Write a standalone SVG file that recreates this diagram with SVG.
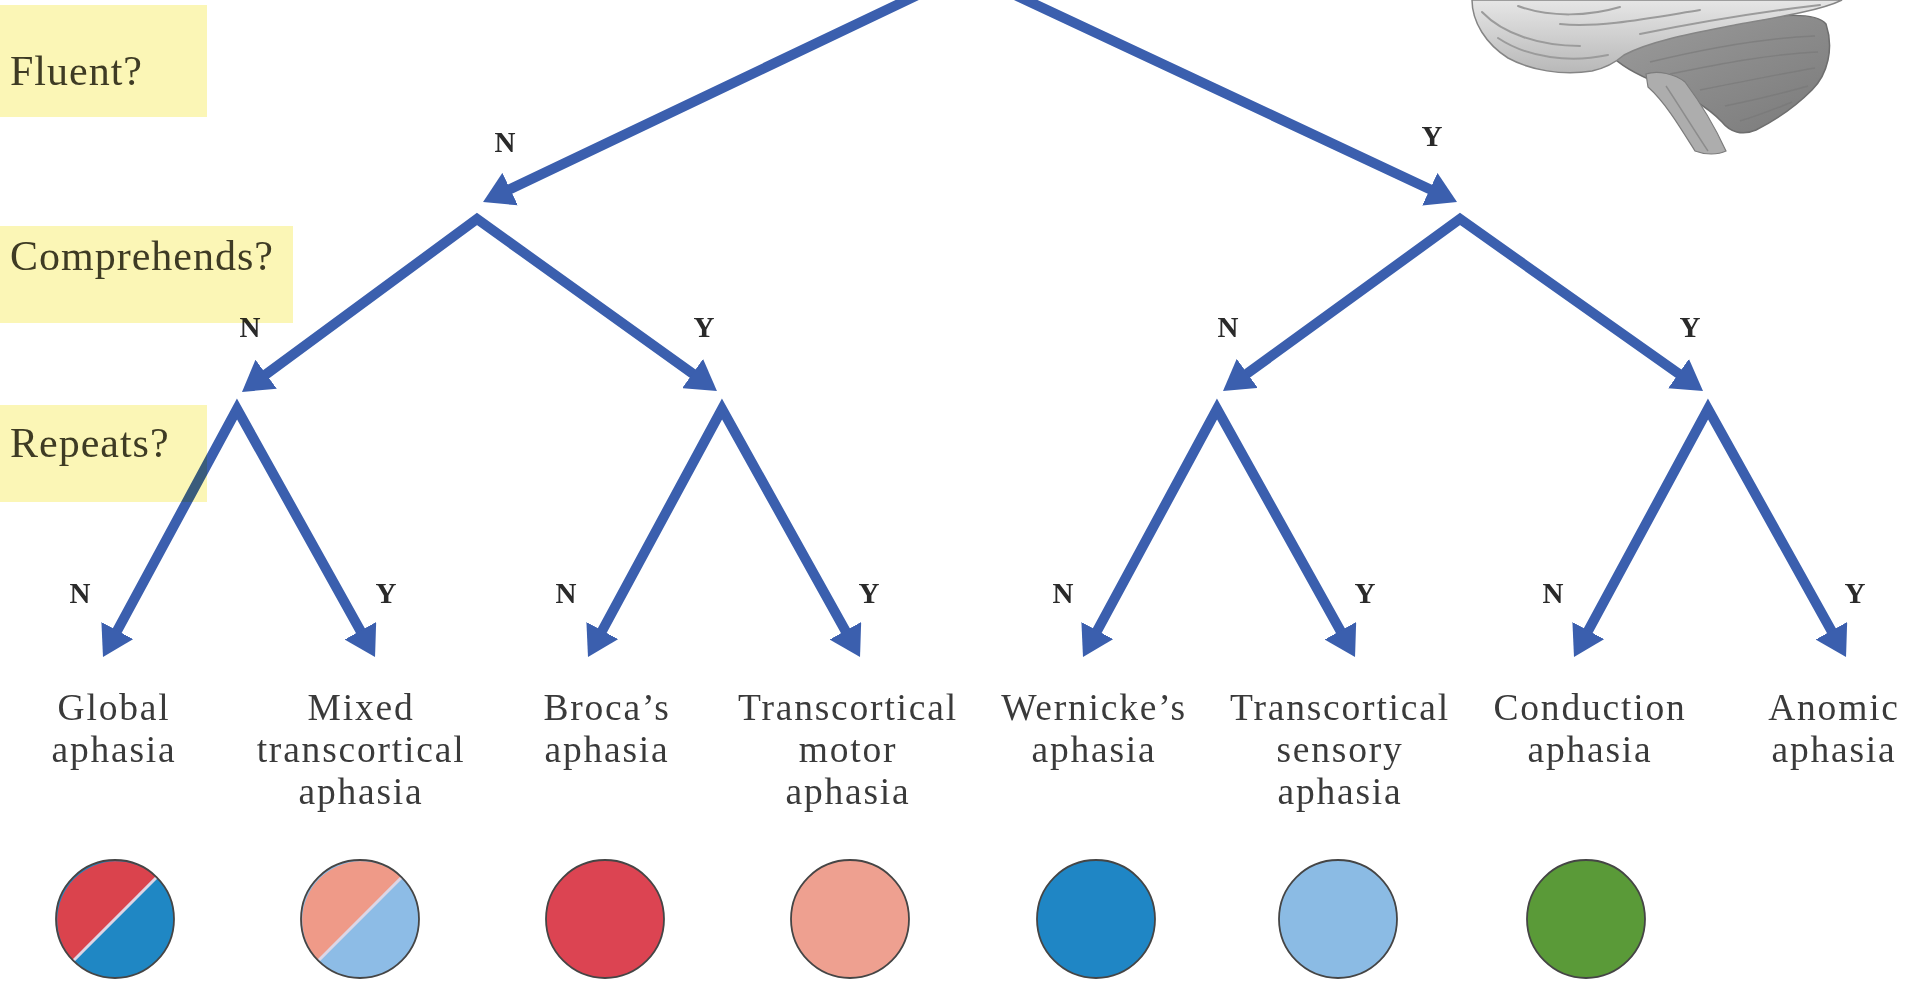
<svg xmlns="http://www.w3.org/2000/svg" width="1920" height="987" viewBox="0 0 1920 987">
  <defs>
    <style>
      .edge { fill: none; stroke: #3b5fae; stroke-width: 10; stroke-linejoin: miter; marker-start: url(#ah); marker-end: url(#ah); }
      .yn { font-family: "Liberation Serif", "Times New Roman", serif; font-size: 29px; font-weight: bold; fill: #2a2a2a; text-anchor: middle; }
      .q-box { fill: #fbf6b6; mix-blend-mode: multiply; }
      .q-text { font-family: "Liberation Serif", "Times New Roman", serif; font-size: 42px; letter-spacing: 1px; fill: #3e3b24; }
      .leaf-text { font-family: "Liberation Serif", "Times New Roman", serif; font-size: 37.5px; letter-spacing: 1.8px; fill: #3a3a3a; text-anchor: middle; }
      .ring { fill: none; stroke: #454545; stroke-width: 1.8; }
      .split { stroke: #dcd6e6; stroke-width: 3; }
      .fold { fill: none; stroke: #9b9b9b; stroke-width: 2; stroke-linecap: round; }
      .stria { fill: none; stroke: #767676; stroke-width: 1.4; opacity: 0.6; }
    </style>
    <marker id="ah" markerUnits="userSpaceOnUse" viewBox="0 0 30 36" markerWidth="30" markerHeight="36" refX="10" refY="18" orient="auto-start-reverse">
      <path d="M0,0 L30,18 L0,36 z" fill="#3b5fae"/>
    </marker>
    <linearGradient id="lobe" x1="0" y1="0" x2="0" y2="1">
      <stop offset="0" stop-color="#e6e6e6"/>
      <stop offset="1" stop-color="#b8b8b8"/>
    </linearGradient>
    <linearGradient id="cereb" x1="0" y1="0" x2="1" y2="1">
      <stop offset="0" stop-color="#9c9c9c"/>
      <stop offset="1" stop-color="#7a7a7a"/>
    </linearGradient>
  </defs>

  <rect width="1920" height="987" fill="#ffffff"/>

  <!-- brain sketch, top right -->
  <g id="brain">
    <path d="M1610,54 C1640,40 1700,28 1760,18 C1790,14 1818,14 1826,24 C1834,48 1828,74 1812,90 C1796,106 1776,120 1756,130 C1742,136 1730,132 1722,122 C1705,104 1680,92 1660,84 C1640,76 1620,66 1610,54 Z" fill="url(#cereb)" stroke="#6e6e6e" stroke-width="1.5"/>
    <path class="stria" d="M1650,62 C1700,50 1760,38 1815,36"/>
    <path class="stria" d="M1670,74 C1720,64 1770,54 1818,52"/>
    <path class="stria" d="M1700,90 C1740,82 1780,74 1815,68"/>
    <path class="stria" d="M1725,106 C1755,100 1780,94 1808,86"/>
    <path class="stria" d="M1740,121 C1760,115 1775,109 1792,102"/>
    <path d="M1646,74 C1658,70 1675,74 1685,82 C1700,102 1715,127 1726,151 C1718,155 1705,155 1695,151 C1680,127 1665,102 1648,87 Z" fill="#adadad" stroke="#7c7c7c" stroke-width="1.2"/>
    <path class="stria" d="M1666,86 C1680,107 1694,130 1708,151"/>
    <path d="M1472,0 C1472,22 1486,44 1508,58 C1530,70 1562,76 1592,71 C1606,68 1616,62 1624,55 C1652,40 1700,32 1740,24 C1780,17 1822,10 1842,0 Z" fill="url(#lobe)" stroke="#858585" stroke-width="1.5"/>
    <path class="fold" d="M1482,12 C1503,34 1540,46 1580,46"/>
    <path class="fold" d="M1498,38 C1528,58 1570,63 1608,55"/>
    <path class="fold" d="M1560,24 C1600,28 1650,18 1700,10"/>
    <path class="fold" d="M1640,34 C1700,22 1760,12 1820,5"/>
    <path class="fold" d="M1518,6 C1550,18 1590,16 1620,7"/>
  </g>

  <!-- decision arrows -->
  <g id="connectors">
    <path class="edge" d="M501.1,193.4 L966,-28 L1438.9,193.5"/>
    <path class="edge" d="M258.1,380.1 L477,219 L700.7,379.4"/>
    <path class="edge" d="M1239.2,379.3 L1460,219 L1686.7,379.4"/>
    <path class="edge" d="M112.5,639.4 L237,409 L365.3,639.5"/>
    <path class="edge" d="M597.5,639.4 L722,409 L850.3,639.5"/>
    <path class="edge" d="M1092.5,639.4 L1217,409 L1345.3,639.5"/>
    <path class="edge" d="M1583.5,639.4 L1708,409 L1836.3,639.5"/>

    <text class="yn" x="505" y="152">N</text>
    <text class="yn" x="1432" y="146">Y</text>

    <text class="yn" x="250" y="337">N</text>
    <text class="yn" x="704" y="337">Y</text>
    <text class="yn" x="1228" y="337">N</text>
    <text class="yn" x="1690" y="337">Y</text>

    <text class="yn" x="80" y="603">N</text>
    <text class="yn" x="386" y="603">Y</text>
    <text class="yn" x="566" y="603">N</text>
    <text class="yn" x="869" y="603">Y</text>
    <text class="yn" x="1063" y="603">N</text>
    <text class="yn" x="1365" y="603">Y</text>
    <text class="yn" x="1553" y="603">N</text>
    <text class="yn" x="1855" y="603">Y</text>
  </g>

  <!-- question labels -->
  <g id="q-fluent">
    <rect class="q-box" x="0" y="5" width="207" height="112"/>
    <text class="q-text" x="10" y="85">Fluent?</text>
  </g>
  <g id="q-comprehends">
    <rect class="q-box" x="0" y="226" width="293" height="97"/>
    <text class="q-text" x="10" y="270">Comprehends?</text>
  </g>
  <g id="q-repeats">
    <rect class="q-box" x="0" y="405" width="207" height="97"/>
    <text class="q-text" x="10" y="457">Repeats?</text>
  </g>

  <!-- outcomes -->
  <g id="global-aphasia">
    <text class="leaf-text" x="114" y="720">Global</text>
    <text class="leaf-text" x="114" y="762">aphasia</text>
    <g transform="translate(115,919)">
      <circle r="59" fill="#1f87c4"/>
      <path d="M-41.7,41.7 A59,59 0 0 1 41.7,-41.7 Z" fill="#da434d"/>
      <line class="split" x1="-41.7" y1="41.7" x2="41.7" y2="-41.7"/>
      <circle class="ring" r="59"/>
    </g>
  </g>

  <g id="mixed-transcortical-aphasia">
    <text class="leaf-text" x="361" y="720">Mixed</text>
    <text class="leaf-text" x="361" y="762">transcortical</text>
    <text class="leaf-text" x="361" y="804">aphasia</text>
    <g transform="translate(360,919)">
      <circle r="59" fill="#8dbce6"/>
      <path d="M-41.7,41.7 A59,59 0 0 1 41.7,-41.7 Z" fill="#ef9a88"/>
      <line class="split" x1="-41.7" y1="41.7" x2="41.7" y2="-41.7"/>
      <circle class="ring" r="59"/>
    </g>
  </g>

  <g id="brocas-aphasia">
    <text class="leaf-text" x="607" y="720">Broca’s</text>
    <text class="leaf-text" x="607" y="762">aphasia</text>
    <circle cx="605" cy="919" r="59" fill="#dc4452"/>
    <circle class="ring" cx="605" cy="919" r="59"/>
  </g>

  <g id="transcortical-motor-aphasia">
    <text class="leaf-text" x="848" y="720">Transcortical</text>
    <text class="leaf-text" x="848" y="762">motor</text>
    <text class="leaf-text" x="848" y="804">aphasia</text>
    <circle cx="850" cy="919" r="59" fill="#eea090"/>
    <circle class="ring" cx="850" cy="919" r="59"/>
  </g>

  <g id="wernickes-aphasia">
    <text class="leaf-text" x="1094" y="720">Wernicke’s</text>
    <text class="leaf-text" x="1094" y="762">aphasia</text>
    <circle cx="1096" cy="919" r="59" fill="#1f86c5"/>
    <circle class="ring" cx="1096" cy="919" r="59"/>
  </g>

  <g id="transcortical-sensory-aphasia">
    <text class="leaf-text" x="1340" y="720">Transcortical</text>
    <text class="leaf-text" x="1340" y="762">sensory</text>
    <text class="leaf-text" x="1340" y="804">aphasia</text>
    <circle cx="1338" cy="919" r="59" fill="#8bbbe4"/>
    <circle class="ring" cx="1338" cy="919" r="59"/>
  </g>

  <g id="conduction-aphasia">
    <text class="leaf-text" x="1590" y="720">Conduction</text>
    <text class="leaf-text" x="1590" y="762">aphasia</text>
    <circle cx="1586" cy="919" r="59" fill="#5a9a38"/>
    <circle class="ring" cx="1586" cy="919" r="59"/>
  </g>

  <g id="anomic-aphasia">
    <text class="leaf-text" x="1834" y="720">Anomic</text>
    <text class="leaf-text" x="1834" y="762">aphasia</text>
  </g>
</svg>
